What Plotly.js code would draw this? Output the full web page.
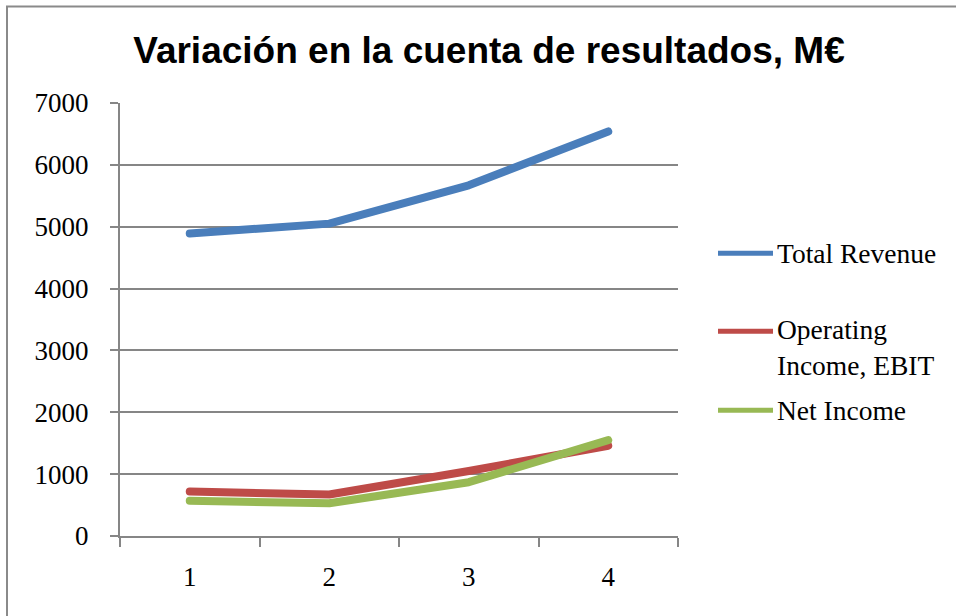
<!DOCTYPE html>
<html>
<head>
<meta charset="utf-8">
<script src="https://cdn.plot.ly/plotly-3.0.1.min.js"></script>
<style>
html,body{margin:0;padding:0;background:#fff;}
#chart{width:956px;height:616px;}
.js-line{stroke-linecap:round !important;stroke-linejoin:round !important;}
</style>
</head>
<body>
<div id="chart"></div>
<script>
// ---- data ----
const categories = ["1", "2", "3", "4"];
const totalRevenue = [4890, 5050, 5670, 6540];
const operatingIncome = [720, 670, 1050, 1460];
const netIncome = [570, 530, 870, 1550];
const seriesNames = ["Total Revenue", "Operating<br>Income, EBIT", "Net Income"];
const seriesColors = ["#4A7EBB", "#BE4B48", "#98B954"];
const yTicks = [0, 1000, 2000, 3000, 4000, 5000, 6000, 7000];

// ---- layout geometry (pixels) ----
const W = 956, H = 616;
const L = 120, R = 678, T = 102.5, B = 536;
const px2x = p => (p - L) / (R - L);
const px2y = p => (B - p) / (B - T);

const seriesValues = [totalRevenue, operatingIncome, netIncome];
const traces = seriesValues.map((vals, i) => ({
  type: "scatter",
  mode: "lines",
  x: categories,
  y: vals,
  name: seriesNames[i],
  line: {color: seriesColors[i], width: 8},
  showlegend: false,
  cliponaxis: false,
  hoverinfo: "x+y"
}));

// manual legend (Excel-style spacing)
const legendY = [253, 347.5, 410];
const legendLineY = [253, 331, 410];
const shapes = [];
const annotations = [];
seriesNames.forEach((n, i) => {
  shapes.push({
    type: "line", xref: "paper", yref: "paper",
    x0: px2x(718), x1: px2x(773), y0: px2y(legendLineY[i]), y1: px2y(legendLineY[i]),
    line: {color: seriesColors[i], width: 5}
  });
  annotations.push({
    xref: "paper", yref: "paper",
    x: px2x(775), y: px2y(legendY[i]),
    xanchor: "left", yanchor: "middle", align: "left",
    text: n, showarrow: false,
    font: {family: "Liberation Serif, serif", size: 27.5, color: "#000"}
  });
});
// outer frame
shapes.push({
  type: "rect", xref: "paper", yref: "paper",
  x0: px2x(7), x1: px2x(W + 10), y0: px2y(6), y1: px2y(H + 10),
  line: {color: "#8a8a8a", width: 2}, fillcolor: "rgba(0,0,0,0)", layer: "below"
});

const layout = {
  width: W, height: H,
  margin: {l: L, r: W - R, t: T, b: H - B, pad: 0},
  paper_bgcolor: "#fff", plot_bgcolor: "#fff",
  title: {
    text: "Variación en la cuenta de resultados, M€",
    font: {family: "Liberation Sans, Arial, sans-serif", size: 37, color: "#000", weight: "bold"},
    x: 489 / W, xanchor: "center", xref: "container",
    y: 1 - 50 / H, yanchor: "middle", yref: "container"
  },
  xaxis: {
    type: "category",
    range: [-0.5, 3.5],
    tickson: "boundaries",
    ticks: "outside", ticklen: 9, tickcolor: "#868686", tickwidth: 2,
    showline: true, linecolor: "#868686", linewidth: 2,
    showgrid: false, zeroline: false,
    tickfont: {family: "Liberation Serif, serif", size: 27, color: "#000"},
    ticklabelstandoff: 16
  },
  yaxis: {
    range: [0, 7000],
    tickmode: "array", tickvals: yTicks, ticktext: yTicks.map(String),
    ticks: "outside", ticklen: 8, tickcolor: "#868686", tickwidth: 2,
    showline: true, linecolor: "#868686", linewidth: 2,
    showgrid: true, gridcolor: "#868686", gridwidth: 2,
    zeroline: false,
    tickfont: {family: "Liberation Serif, serif", size: 27, color: "#000"},
    ticklabelstandoff: 16
  },
  shapes: shapes,
  annotations: annotations,
  showlegend: false
};

Plotly.newPlot("chart", traces, layout, {displayModeBar: false, staticPlot: true});
</script>
</body>
</html>
